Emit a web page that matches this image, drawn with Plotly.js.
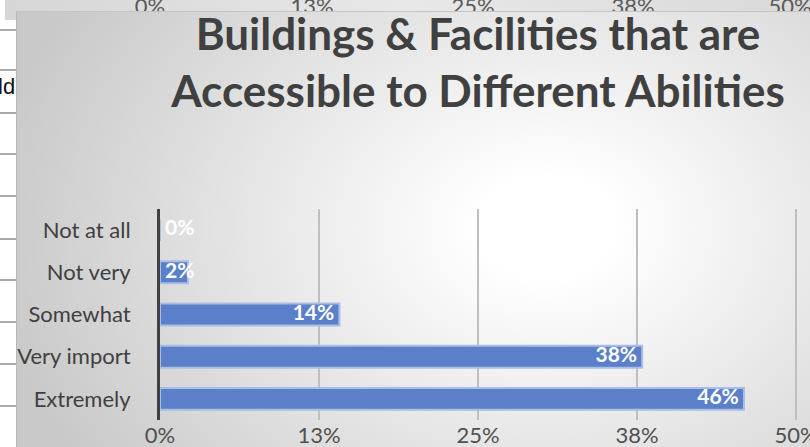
<!DOCTYPE html>
<html>
<head>
<meta charset="utf-8">
<script src="https://cdn.plot.ly/plotly-3.0.1.min.js"></script>
<style>
  html, body { margin:0; padding:0; background:#ffffff; overflow:hidden; }
  #wrap { position:relative; width:810px; height:447px; overflow:hidden; }
  #strip { position:absolute; left:5px; top:0; width:805px; height:20px;
           background:linear-gradient(90deg,#d6d6d6,#e8e8e8 50%,#d9d9d9); }
  .stripLbl { position:absolute; top:-5px; font-family:Lato, sans-serif; font-size:22px;
              color:#595959; transform:translateX(-50%); line-height:22px; white-space:nowrap; }
  .hline { position:absolute; left:0; width:16px; height:2px; background:#a9a9a9; }
  #ld { position:absolute; left:-2px; top:74px; font-family:"Liberation Sans", Arial, sans-serif;
        font-size:22px; color:#111; line-height:26px; }
  #panel { position:absolute; left:16px; top:11px; width:794px; height:436px;
           border-top:1px solid #c4c4c4; border-left:1px solid #b8b8b8;
           background:radial-gradient(ellipse 560px 420px at 530px 215px, #ffffff 0%, #ffffff 12%, #e9e9e9 48%, #c9c9c9 100%); }
  #chart { position:absolute; left:0; top:0; width:810px; height:447px; }
</style>
</head>
<body>
<div id="wrap">
  <div id="strip"></div>
  <div id="panel"></div>
  <div id="chart"></div>
</div>
<script>
// ---- data ----
const categories = ["Not at all", "Not very", "Somewhat", "Very import", "Extremely"];
const values = [0, 2.2, 14.1, 37.9, 45.9];
const valueLabels = ["0%", "2%", "14%", "38%", "46%"];
const tickVals = [0, 12.5, 25, 37.5, 50];
const tickText = ["0%", "13%", "25%", "38%", "50%"];
const chartTitle = "Buildings & Facilities that are<br>Accessible to Different Abilities";

// ---- background artifacts (screenshot remnants) ----
const strip = document.getElementById('strip');
const stripX = [150, 312, 473, 633, 790];
tickText.forEach((t, i) => {
  const s = document.createElement('span');
  s.className = 'stripLbl';
  s.textContent = t;
  s.style.left = (stripX[i] - 5) + 'px';
  strip.appendChild(s);
});
const wrap = document.getElementById('wrap');
[29, 69, 112, 153, 195, 238, 279, 321, 363, 405].forEach(y => {
  const d = document.createElement('div');
  d.className = 'hline';
  d.style.top = y + 'px';
  wrap.insertBefore(d, document.getElementById('panel'));
});
const ld = document.createElement('span');
ld.id = 'ld'; ld.textContent = 'ld';
wrap.insertBefore(ld, document.getElementById('panel'));

// ---- chart ----
const FONT = 'Lato, "Open Sans", sans-serif';
const NB = '\u00a0';
const fitsInside = values.map(v => v >= 5);
const labelX = values.map((v, i) => fitsInside[i] ? v : 0);
const labelPos = values.map((v, i) => fitsInside[i] ? 'middle left' : 'middle right');
const labelText = valueLabels.map((t, i) => fitsInside[i] ? t + NB : NB + t);

const bars = {
  type: 'bar',
  orientation: 'h',
  x: values,
  y: categories,
  marker: { color: '#5b7fc8', line: { color: '#a9bde6', width: 2 } },
  hoverinfo: 'skip',
  showlegend: false
};
const labels = {
  type: 'scatter',
  mode: 'text',
  x: labelX,
  y: categories,
  text: labelText,
  textposition: labelPos,
  textfont: { family: FONT, size: 21, color: '#ffffff', weight: 'bold' },
  hoverinfo: 'skip',
  showlegend: false,
  cliponaxis: false
};

const layout = {
  width: 810,
  height: 447,
  paper_bgcolor: 'rgba(0,0,0,0)',
  plot_bgcolor: 'rgba(0,0,0,0)',
  margin: { l: 160, r: 12, t: 209, b: 27, pad: 0 },
  bargap: 0.48,
  font: { family: FONT, color: '#404040' },
  title: {
    text: chartTitle,
    x: 478 / 810, xref: 'container', xanchor: 'center',
    y: 1 - 50 / 447, yref: 'container', yanchor: 'top',
    font: { family: FONT, size: 44, color: '#404040', weight: 'bold' }
  },
  xaxis: {
    range: [0, 50.15],
    tickvals: tickVals,
    ticktext: tickText,
    ticklabeloverflow: 'allow',
    showgrid: true,
    gridcolor: '#bfbfbf',
    gridwidth: 2,
    zeroline: false,
    showline: false,
    ticks: '',
    tickfont: { family: FONT, size: 22, color: '#505050' },
    fixedrange: true
  },
  yaxis: {
    type: 'category',
    categoryorder: 'array',
    categoryarray: categories,
    autorange: 'reversed',
    showgrid: false,
    zeroline: false,
    showline: true,
    linecolor: '#404040',
    linewidth: 3,
    ticks: '',
    ticklabelstandoff: 22,
    tickfont: { family: FONT, size: 22, color: '#404040' },
    fixedrange: true
  }
};

Plotly.newPlot('chart', [bars, labels], layout, { displayModeBar: false, staticPlot: true });
</script>
</body>
</html>
